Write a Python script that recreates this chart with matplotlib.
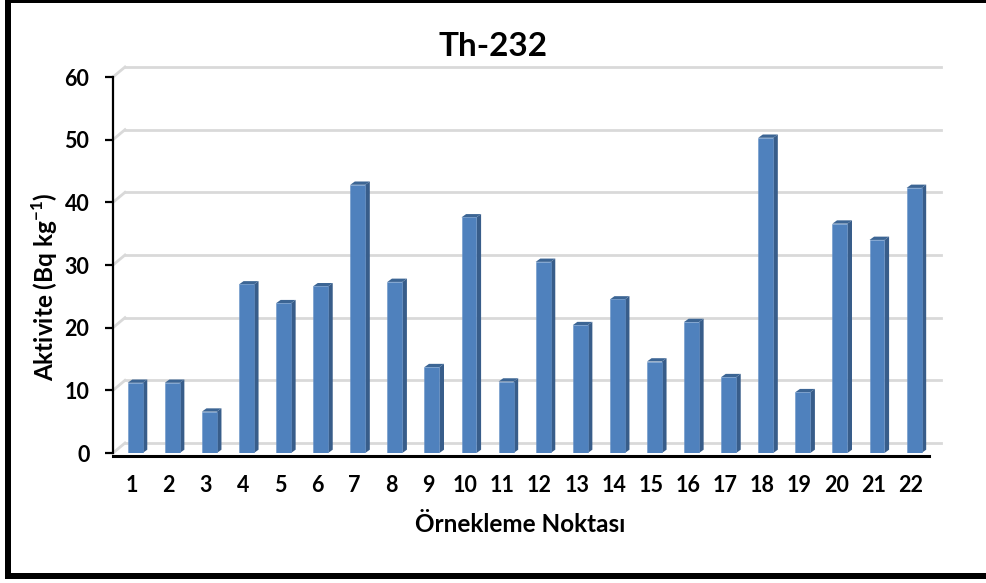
import matplotlib
matplotlib.use("Agg")
import matplotlib.pyplot as plt
from matplotlib.lines import Line2D
from matplotlib.patches import Polygon
import numpy as np

categories = [str(i) for i in range(1, 23)]
values = [11.2, 11.2, 6.6, 26.9, 23.9, 26.6, 42.8, 27.3, 13.7, 37.6, 11.4,
          30.5, 20.4, 24.5, 14.6, 20.9, 12.1, 50.3, 9.7, 36.6, 34.0, 42.3]
yticks = [0, 10, 20, 30, 40, 50, 60]
title = "Th-232"
xlabel = "Örnekleme Noktası"
ylabel = "Aktivite (Bq kg$^{\\mathbf{-1}}$)"

FONT = ["Lato", "DejaVu Sans"]
plt.rcParams["font.family"] = FONT
plt.rcParams["mathtext.fontset"] = "custom"
plt.rcParams["mathtext.rm"] = "Lato"
plt.rcParams["mathtext.bf"] = "Lato:bold"

W, H = 987, 583
fig = plt.figure(figsize=(W / 100, H / 100), dpi=100)

# front plane of the 3-D chart
x0, x1 = 113, 929
y0, y1 = 453, 77
ax = fig.add_axes([x0 / W, 1 - y0 / H, (x1 - x0) / W, (y0 - y1) / H])
n = len(values)
ax.set_xlim(-0.5, n - 0.5)
ax.set_ylim(0, 60)

pxx = (x1 - x0) / n        # pixels per x unit
pxy = (y0 - y1) / 60.0     # pixels per y unit

# back wall gridlines (depth offset)
bdx, bdy = 12 / pxx, 10 / pxy
for v in yticks:
    ax.add_line(Line2D([-0.5 + bdx, n - 0.5 + bdx], [v + bdy, v + bdy],
                       color="#d9d9d9", lw=2, clip_on=False, zorder=1))
    ax.add_line(Line2D([-0.5, -0.5 + bdx], [v, v + bdy],
                       color="#d9d9d9", lw=2, clip_on=False, zorder=1))

# bars
xs = np.arange(n) + 0.098
bw = 0.404
bars = ax.bar(xs, values, width=bw, color="#4f81bd", edgecolor="#6a94c8",
              linewidth=0.4, zorder=3)
sdx, sdy = 4.6 / pxx, 3.3 / pxy
for x, v in zip(xs, values):
    xl, xr = x - bw / 2, x + bw / 2
    side = Polygon([(xr, 0), (xr, v), (xr + sdx, v + sdy), (xr + sdx, sdy)],
                   closed=True, facecolor="#385d8a", edgecolor="none", zorder=2.9,
                   clip_on=False)
    top = Polygon([(xl, v), (xr, v), (xr + sdx, v + sdy), (xl + sdx, v + sdy)],
                  closed=True, facecolor="#3c6594", edgecolor="none", zorder=2.9,
                  clip_on=False)
    ax.add_patch(side)
    ax.add_patch(top)

# axes styling
for s in ["top", "right"]:
    ax.spines[s].set_visible(False)
ax.spines["left"].set_linewidth(1.6)
ax.spines["bottom"].set_linewidth(2.2)
ax.spines["bottom"].set_position(("outward", 2))
ax.set_yticks(yticks)
ax.set_yticklabels([str(t) for t in yticks], fontsize=15.5, fontweight="bold")
ax.set_xticks(np.arange(n))
ax.set_xticklabels(categories, fontsize=15.5, fontweight="bold")
ax.tick_params(axis="y", length=6, width=1.6, pad=11)
ax.tick_params(axis="x", length=0, pad=14)
ax.set_facecolor("none")

fig.text(493 / W, 1 - 47 / H, title, ha="center", va="center",
         fontsize=24, fontweight="bold")
fig.text(520 / W, 1 - 524 / H, xlabel, ha="center", va="center",
         fontsize=17.5, fontweight="bold")
fig.text(45 / W, 1 - 287 / H, ylabel, ha="center", va="center",
         rotation=90, fontsize=17.5, fontweight="bold")

# outer chart border
fig.add_artist(Line2D([8 / W, 8 / W], [1 - 579 / H, 1.0], color="black",
                      lw=6 * 0.72, transform=fig.transFigure, solid_capstyle="butt"))
fig.add_artist(Line2D([5 / W, 1.0], [1 - 576 / H, 1 - 576 / H], color="black",
                      lw=6 * 0.72, transform=fig.transFigure, solid_capstyle="butt"))
fig.add_artist(Line2D([5 / W, 1.0], [1.0, 1.0], color="black",
                      lw=6 * 0.72, transform=fig.transFigure, solid_capstyle="butt"))

fig.savefig("out.png", dpi=100, facecolor="white")
